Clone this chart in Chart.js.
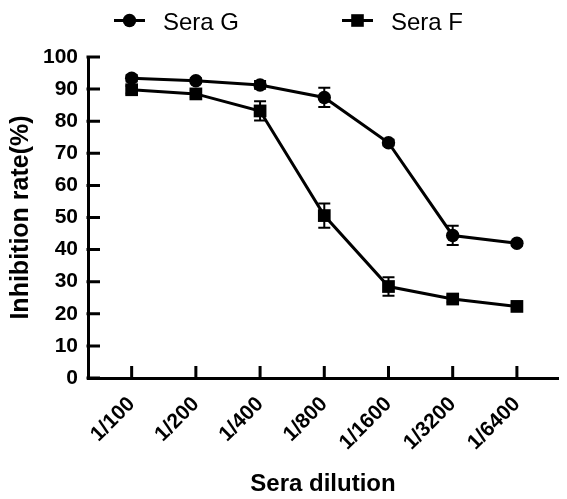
<!DOCTYPE html>
<html lang="en">
  <head>
    <meta charset="UTF-8" />
    <title>Sera dilution</title>
    <script src="https://cdn.jsdelivr.net/npm/chart.js@4.4.1/dist/chart.umd.min.js"></script>
    <style>
      html, body { margin: 0; padding: 0; background: #fff; }
      #wrap { width: 567px; height: 499px; }
    </style>
  </head>
  <body>
    <div id="wrap"><canvas id="chart" width="567" height="499"></canvas></div>

    <script>
      //data
      const dilutions = ['1/100', '1/200', '1/400', '1/800', '1/1600', '1/3200', '1/6400'];
      const seraG = [93.4, 92.6, 91.3, 87.4, 73.3, 44.4, 42.0];
      const seraGErr = [1.0, 0.8, 1.2, 3.0, 0.9, 3.0, 0.7];
      const seraF = [89.8, 88.5, 83.2, 50.6, 28.5, 24.6, 22.3];
      const seraFErr = [1.2, 1.0, 3.0, 3.8, 2.9, 1.0, 0.8];

      const FONT = '"Liberation Sans", Arial, sans-serif';
      const toPoints = (vals) => vals.map((v, i) => ({ x: i, y: v }));

      // error bars with caps
      const errorBars = {
        id: 'errorBars',
        afterDatasetsDraw(chart) {
          const { ctx } = chart;
          const xs = chart.scales.x;
          const ys = chart.scales.y;
          ctx.save();
          ctx.strokeStyle = '#000';
          ctx.lineWidth = 2;
          chart.data.datasets.forEach((ds) => {
            ds.data.forEach((p, i) => {
              const e = ds.errors[i];
              const px = xs.getPixelForValue(p.x);
              const top = ys.getPixelForValue(p.y + e);
              const bot = ys.getPixelForValue(p.y - e);
              ctx.beginPath();
              ctx.moveTo(px, top); ctx.lineTo(px, bot);
              ctx.moveTo(px - 6, top); ctx.lineTo(px + 6, top);
              ctx.moveTo(px - 6, bot); ctx.lineTo(px + 6, bot);
              ctx.stroke();
            });
          });
          ctx.restore();
        }
      };

      // tick marks pointing into the plot
      const innerTicks = {
        id: 'innerTicks',
        afterDraw(chart) {
          const { ctx, chartArea } = chart;
          const xs = chart.scales.x;
          const ys = chart.scales.y;
          ctx.save();
          ctx.strokeStyle = '#000';
          ctx.lineWidth = 3;
          ctx.beginPath();
          ys.ticks.forEach((t) => {
            const py = ys.getPixelForValue(t.value);
            ctx.moveTo(chartArea.left - 1.5, py);
            ctx.lineTo(chartArea.left + 12, py);
          });
          xs.ticks.forEach((t) => {
            const px = xs.getPixelForValue(t.value);
            ctx.moveTo(px, chartArea.bottom);
            ctx.lineTo(px, chartArea.bottom - 12);
          });
          ctx.stroke();
          ctx.restore();
        }
      };

      // legend: short line with marker, then label
      const lineLegend = {
        id: 'lineLegend',
        afterDraw(chart) {
          const { ctx } = chart;
          const starts = [114, 342];
          const cy = 20.5;
          ctx.save();
          chart.data.datasets.forEach((ds, i) => {
            const x0 = starts[i];
            ctx.strokeStyle = '#000';
            ctx.fillStyle = '#000';
            ctx.lineWidth = 3;
            ctx.beginPath();
            ctx.moveTo(x0, cy);
            ctx.lineTo(x0 + 31, cy);
            ctx.stroke();
            const mx = x0 + 15.5;
            if (ds.pointStyle === 'circle') {
              ctx.beginPath();
              ctx.arc(mx, cy, 6.7, 0, Math.PI * 2);
              ctx.fill();
            } else {
              ctx.fillRect(mx - 6.3, cy - 6.3, 12.6, 12.6);
            }
            ctx.font = '24px ' + FONT;
            ctx.textBaseline = 'alphabetic';
            ctx.textAlign = 'left';
            ctx.fillText(ds.label, x0 + 49, 29.5);
          });
          ctx.restore();
        }
      };

      const data = {
        datasets: [
          {
            label: 'Sera G',
            data: toPoints(seraG),
            errors: seraGErr,
            borderColor: '#000',
            backgroundColor: '#000',
            borderWidth: 3,
            pointStyle: 'circle',
            pointRadius: 6.7,
            pointBorderWidth: 0,
            pointBackgroundColor: '#000',
            clip: false
          },
          {
            label: 'Sera F',
            data: toPoints(seraF),
            errors: seraFErr,
            borderColor: '#000',
            backgroundColor: '#000',
            borderWidth: 3,
            pointStyle: 'rect',
            pointRadius: 9,
            pointBorderWidth: 0,
            pointBackgroundColor: '#000',
            clip: false
          }
        ]
      };

      //config
      const config = {
        type: 'line',
        data: data,
        plugins: [errorBars, innerTicks, lineLegend],
        options: {
          responsive: false,
          animation: false,
          devicePixelRatio: 1,
          layout: { padding: { top: 57, right: 1, left: 0, bottom: 0 } },
          elements: { line: { tension: 0 } },
          plugins: {
            legend: { display: false },
            tooltip: { enabled: false }
          },
          scales: {
            x: {
              type: 'linear',
              min: -0.68,
              max: 6.64,
              afterBuildTicks: (scale) => {
                scale.ticks = dilutions.map((_, i) => ({ value: i }));
              },
              afterFit: (scale) => { scale.height = 121; },
              grid: { display: false, drawTicks: false },
              border: { display: true, color: '#000', width: 3 },
              ticks: {
                autoSkip: false,
                minRotation: 45,
                maxRotation: 45,
                padding: 14,
                color: '#000',
                font: { family: FONT, size: 21, weight: 'bold' },
                callback: (v) => dilutions[v]
              },
              title: {
                display: true,
                text: 'Sera dilution',
                color: '#000',
                font: { family: FONT, size: 24, weight: 'bold' },
                padding: { top: 0, bottom: 0 }
              }
            },
            y: {
              min: 0,
              max: 100,
              afterFit: (scale) => { scale.width = 88; },
              grid: { display: false, drawTicks: false },
              border: { display: true, color: '#000', width: 3 },
              ticks: {
                stepSize: 10,
                padding: 10,
                color: '#000',
                font: { family: FONT, size: 21, weight: 'bold' }
              },
              title: {
                display: true,
                text: 'Inhibition rate(%)',
                color: '#000',
                font: { family: FONT, size: 25, weight: 'bold' },
                padding: { top: 6, bottom: 0 }
              }
            }
          }
        }
      };

      //init
      const ctx = document.getElementById('chart');
      const chart = new Chart(ctx, config);
    </script>
  </body>
</html>
